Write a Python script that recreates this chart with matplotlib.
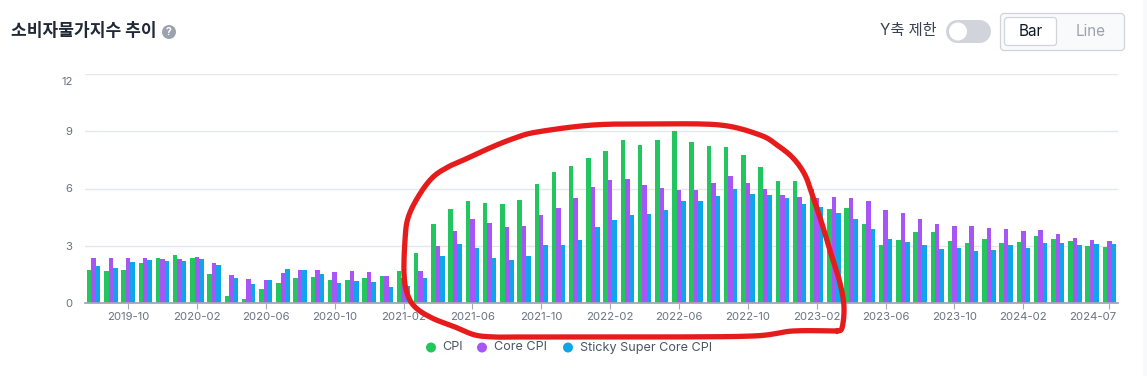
import numpy as np
import pandas as pd
import matplotlib
matplotlib.use('Agg')
import matplotlib.pyplot as plt
from matplotlib.patches import Circle, FancyBboxPatch, Rectangle
from matplotlib.transforms import ScaledTranslation

plt.rcParams['font.family'] = ['Inter', 'Noto Sans CJK KR', 'DejaVu Sans']

# 2019-08 ~ 2024-07 monthly values
months = pd.date_range('2019-08-01', '2024-07-01', freq='MS').strftime('%Y-%m').tolist()
cpi = [1.74, 1.68, 1.74, 2.09, 2.33, 2.51, 2.33, 1.53, 0.35, 0.21, 0.70, 1.02,
       1.30, 1.37, 1.21, 1.18, 1.30, 1.40, 1.67, 2.61, 4.16, 4.93, 5.32, 5.26,
       5.18, 5.37, 6.23, 6.88, 7.19, 7.58, 7.96, 8.56, 8.26, 8.54, 9.00, 8.46,
       8.23, 8.19, 7.75, 7.12, 6.40, 6.37, 5.98, 4.93, 4.95, 4.12, 3.05, 3.28,
       3.72, 3.70, 3.25, 3.14, 3.33, 3.12, 3.18, 3.49, 3.35, 3.25, 2.98, 2.93]
core_cpi = [2.33, 2.33, 2.35, 2.35, 2.30, 2.28, 2.39, 2.11, 1.46, 1.25, 1.19, 1.56,
            1.70, 1.70, 1.63, 1.67, 1.61, 1.40, 1.29, 1.65, 2.96, 3.77, 4.42, 4.21,
            3.96, 4.04, 4.60, 4.98, 5.51, 6.07, 6.46, 6.49, 6.16, 6.02, 5.91, 5.91,
            6.30, 6.65, 6.30, 5.96, 5.68, 5.54, 5.49, 5.56, 5.51, 5.33, 4.88, 4.72,
            4.42, 4.14, 4.04, 4.04, 3.91, 3.88, 3.77, 3.81, 3.61, 3.40, 3.28, 3.23]
sticky_core = [1.91, 1.82, 2.14, 2.25, 2.19, 2.21, 2.28, 1.98, 1.30, 0.98, 1.18, 1.77,
               1.74, 1.49, 1.04, 1.14, 1.07, 0.84, 0.88, 1.28, 2.46, 3.09, 2.88, 2.35,
               2.25, 2.47, 3.02, 3.02, 3.30, 4.00, 4.35, 4.61, 4.68, 4.86, 5.32, 5.32,
               5.58, 5.98, 5.70, 5.65, 5.49, 5.18, 5.02, 4.70, 4.39, 3.89, 3.37, 3.18,
               3.02, 2.84, 2.89, 2.70, 2.77, 3.02, 2.88, 3.16, 3.14, 3.02, 3.09, 3.07]
tick_months = ['2019-10', '2020-02', '2020-06', '2020-10', '2021-02', '2021-06', '2021-10',
               '2022-02', '2022-06', '2022-10', '2023-02', '2023-06', '2023-10', '2024-02',
               '2024-07']
y_ticks = [0, 3, 6, 9, 12]
series_names = ['CPI', 'Core CPI', 'Sticky Super Core CPI']

GREEN = '#22c55e'
PURPLE = '#a855f7'
BLUE = '#0ea5e9'
W, H = 1147, 376

fig = plt.figure(figsize=(W / 100, H / 100), dpi=100, facecolor='white')

# chart
ax = fig.add_axes([85 / W, 1 - 302.7 / H, (1118 - 85) / W, (302.7 - 74.3) / H])
x = np.arange(len(months))
bar_w = 0.26
for off, vals, col in zip([-bar_w, 0, bar_w], [cpi, core_cpi, sticky_core], [GREEN, PURPLE, BLUE]):
    ax.bar(x + off, vals, width=bar_w, color=col, zorder=3)
ax.set_xlim(-0.5, len(months) - 0.5)
ax.set_ylim(0, 12)
ax.set_xticks([months.index(m) for m in tick_months])
ax.set_xticklabels(tick_months)
ax.set_yticks(y_ticks)
ax.grid(axis='y', color='#e5e7eb', linewidth=1, zorder=0)
ax.set_axisbelow(True)
for s in ['top', 'right', 'left']:
    ax.spines[s].set_visible(False)
ax.spines['bottom'].set_color('#a3a8b2')
ax.spines['bottom'].set_linewidth(1.3)
ax.spines['bottom'].set_zorder(4)
ax.tick_params(axis='x', length=4, width=0.8, color='#a3a8b2', labelcolor='#6b7280', labelsize=8.2, pad=3)
ax.tick_params(axis='y', length=0, labelcolor='#6b7280', labelsize=8.2, pad=9)

# first and last labels are pushed inside the chart in the original
last_x = ax.get_xticklabels()[-1]
last_x.set_transform(last_x.get_transform() + ScaledTranslation(-17 / 100, 0, fig.dpi_scale_trans))
top_y = ax.get_yticklabels()[-1]
top_y.set_transform(top_y.get_transform() + ScaledTranslation(0, -6.4 / 100, fig.dpi_scale_trans))

# overlay in image pixels for header, legend and the hand drawn circle
ov = fig.add_axes([0, 0, 1, 1], facecolor='none')
ov.set_xlim(0, W)
ov.set_ylim(H, 0)
ov.axis('off')

ov.add_patch(Rectangle((1143, 0), 4, H, color='#f8f9fb', lw=0))

ov.text(11, 31, '소비자물가지수 추이', family=['Noto Sans CJK KR', 'DejaVu Sans'], fontweight='bold',
        fontsize=12.3, color='#1f2937', va='center', ha='left')
ov.add_patch(Circle((169, 32), 7, color='#9ca3af', lw=0))
ov.text(169, 32, '?', color='white', fontsize=7.5, fontweight='bold', ha='center', va='center')

ov.text(937, 31, 'Y축 제한', fontsize=11, color='#374151', ha='right', va='center')
ov.add_patch(Rectangle((957.5, 20), 22, 23, color='#d1d5db', lw=0))
ov.add_patch(Circle((957.5, 31.5), 11.5, color='#d1d5db', lw=0))
ov.add_patch(Circle((979.5, 31.5), 11.5, color='#d1d5db', lw=0))
ov.add_patch(Circle((958, 31.5), 9, color='white', lw=0))

ov.add_patch(FancyBboxPatch((1000.5, 13.5), 124, 37, boxstyle='round,pad=0,rounding_size=4',
                            fc='#f9fafb', ec='#d1d5db', lw=0.9))
ov.add_patch(FancyBboxPatch((1004.5, 17.5), 52, 28, boxstyle='round,pad=0,rounding_size=3',
                            fc='white', ec='#d1d5db', lw=0.9))
ov.text(1030.5, 31.5, 'Bar', fontsize=11, color='#111827', ha='center', va='center')
ov.text(1091, 31.5, 'Line', fontsize=11, color='#9ca3af', ha='center', va='center')

for cx, tx, name, col in zip([431, 482, 568], [442, 494, 580], series_names, [GREEN, PURPLE, BLUE]):
    ov.add_patch(Circle((cx, 347.5), 5, color=col, lw=0))
    ov.text(tx, 347.5, name, fontsize=9.1, color='#4b5563', ha='left', va='center')

stroke = np.array([(837, 331), (842, 328), (844, 307), (840, 283), (832, 257), (823, 227), (813, 197),
                   (805, 175), (793, 158), (777, 145), (760, 135), (720, 125), (653, 124), (593, 125),
                   (537, 132), (515, 138), (492, 147), (468, 158), (448, 167), (432, 178), (418, 197),
                   (408, 218), (405, 240), (404, 273), (407, 293), (415, 307), (432, 318), (455, 327),
                   (475, 335), (495, 337), (515, 337), (553, 337), (653, 337), (753, 336), (793, 331),
                   (837, 331)], dtype=float)

# catmull-rom so the pen stroke is not jagged
pad = np.vstack([stroke[0], stroke, stroke[-1]])
pts = []
for i in range(1, len(pad) - 2):
    p0, p1, p2, p3 = pad[i - 1], pad[i], pad[i + 1], pad[i + 2]
    for t in np.linspace(0, 1, 12):
        pts.append(0.5 * (2 * p1 + (p2 - p0) * t + (2 * p0 - 5 * p1 + 4 * p2 - p3) * t ** 2
                          + (3 * p1 - p0 - 3 * p2 + p3) * t ** 3))
pts = np.array(pts)
ov.plot(pts[:, 0], pts[:, 1], color='#e61c1c', lw=3.8, solid_capstyle='round', solid_joinstyle='round')

fig.savefig('out.png', dpi=100)
